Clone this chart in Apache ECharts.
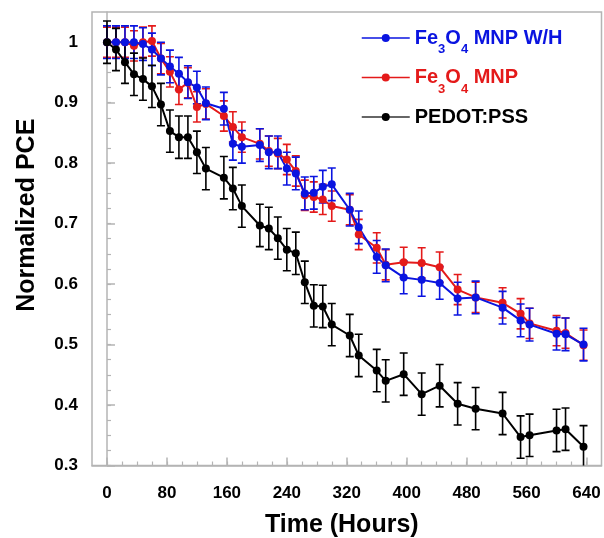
<!DOCTYPE html>
<html><head><meta charset="utf-8">
<script src="https://cdn.jsdelivr.net/npm/echarts@6/dist/echarts.min.js"></script>
<style>html,body{margin:0;padding:0;background:#fff}#c{width:604px;height:538px}</style>
</head><body><div id="c"></div>
<script>
const hours = [0, 12, 24, 36, 48, 60, 72, 84, 96, 108, 120, 132, 156, 168, 180, 204, 216, 228, 240, 252, 264, 276, 288, 300, 324, 336, 360, 372, 396, 420, 444, 468, 492, 528, 552, 564, 600, 612, 636];
const blueVals = [1.0, 1.0, 1.0, 1.0, 0.997, 0.988, 0.973, 0.960, 0.948, 0.934, 0.925, 0.899, 0.890, 0.832, 0.827, 0.830, 0.818, 0.818, 0.791, 0.783, 0.750, 0.751, 0.761, 0.765, 0.723, 0.694, 0.645, 0.631, 0.611, 0.607, 0.602, 0.576, 0.578, 0.561, 0.540, 0.533, 0.518, 0.517, 0.500];
const redVals = [1.0, 1.0, 1.0, 0.994, 1.0, 1.002, 0.973, 0.951, 0.922, 0.933, 0.893, 0.898, 0.878, 0.860, 0.843, 0.832, 0.820, 0.816, 0.806, 0.787, 0.747, 0.744, 0.740, 0.729, 0.723, 0.682, 0.660, 0.632, 0.636, 0.635, 0.628, 0.591, 0.578, 0.569, 0.551, 0.535, 0.523, 0.519, 0.499];
const blackVals = [1.0, 0.988, 0.967, 0.947, 0.939, 0.927, 0.897, 0.853, 0.843, 0.843, 0.818, 0.791, 0.776, 0.758, 0.729, 0.697, 0.692, 0.676, 0.657, 0.651, 0.603, 0.564, 0.563, 0.533, 0.515, 0.482, 0.457, 0.440, 0.451, 0.418, 0.432, 0.402, 0.394, 0.386, 0.347, 0.350, 0.358, 0.360, 0.331];
const blueErr = 0.027;
const redErr = 0.025;
const blackErr = 0.035;
const xMajorTicks = [0, 80, 160, 240, 320, 400, 480, 560, 640];
const xMinorTicks = [0, 20, 40, 60, 80, 100, 120, 140, 160, 180, 200, 220, 240, 260, 280, 300, 320, 340, 360, 380, 400, 420, 440, 460, 480, 500, 520, 540, 560, 580, 600, 620, 640];
const yMajorTicks = [0.3, 0.4, 0.5, 0.6, 0.7, 0.8, 0.9, 1.0];
const yMinorTicks = [0.3, 0.325, 0.35, 0.375, 0.4, 0.425, 0.45, 0.475, 0.5, 0.525, 0.55, 0.575, 0.6, 0.625, 0.65, 0.675, 0.7, 0.725, 0.75, 0.775, 0.8, 0.825, 0.85, 0.875, 0.9, 0.925, 0.95, 0.975, 1.0, 1.025];
const names = ['Fe3O4 MNP W/H', 'Fe3O4 MNP', 'PEDOT:PSS'];

const BLUE = '#0a14e0', RED = '#e41a1a', BLACK = '#000000';
const FONT = 'Liberation Sans, Arial, sans-serif';

function pts(vals){ return hours.map((h,i)=>[h, vals[i]]); }
function errs(vals, e){ return hours.map((h,i)=>[h, vals[i]-e, vals[i]+e]); }
function errSeries(name, vals, e, color){
  return {
    type:'custom', name: name + ' error', data: errs(vals, e), clip:true,
    encode:{x:0, y:[1,2]},
    renderItem:function(params, api){
      const x = api.value(0);
      const lo = api.coord([x, api.value(1)]);
      const hi = api.coord([x, api.value(2)]);
      const w = 4;
      const st = {stroke: color, lineWidth: 1.6};
      return {type:'group', children:[
        {type:'line', shape:{x1:lo[0], y1:lo[1], x2:hi[0], y2:hi[1]}, style:st},
        {type:'line', shape:{x1:lo[0]-w, y1:lo[1], x2:lo[0]+w, y2:lo[1]}, style:st},
        {type:'line', shape:{x1:hi[0]-w, y1:hi[1], x2:hi[0]+w, y2:hi[1]}, style:st}
      ]};
    },
    silent:true, z:2
  };
}
function lineSeries(name, vals, color){
  return {type:'line', name:name, data: pts(vals), symbol:'circle', symbolSize:8,
    lineStyle:{color:color, width:2}, itemStyle:{color:color}, z:3, animation:false};
}
const richBase = {
  n:{fontSize:20, fontWeight:'bold', fontFamily:FONT, lineHeight:36, verticalAlign:'middle'},
  s:{fontSize:13, fontWeight:'bold', fontFamily:FONT, lineHeight:12, verticalAlign:'bottom'}
};
function richFor(color){
  return {n:Object.assign({}, richBase.n, {color:color}), s:Object.assign({}, richBase.s, {color:color})};
}

const chart = echarts.init(document.getElementById('c'), null, {renderer:'canvas'});
const axisGray = '#b4b4b4';
chart.setOption({
  animation:false,
  backgroundColor:'#fff',
  grid:{left:92, right:2.5, top:12, bottom:72.5, show:true, borderColor:axisGray, borderWidth:1.5,
    containLabel:false, outerBoundsMode:'none'},
  legend:{
    left:361, top:28, padding:0, orient:'vertical', itemWidth:48, itemHeight:10, itemGap:11.5,
    data:[
      {name:names[0], textStyle:{rich:richFor(BLUE)}, itemStyle:{color:BLUE}, lineStyle:{color:BLUE, width:1.5}},
      {name:names[1], textStyle:{rich:richFor(RED)}, itemStyle:{color:RED}, lineStyle:{color:RED, width:1.5}},
      {name:names[2], textStyle:{rich:richFor(BLACK)}, itemStyle:{color:BLACK}, lineStyle:{color:'#333', width:1.5}}
    ],
    formatter:function(n){
      if(n===names[0]) return '{n|Fe}{s|3}{n|O}{s|4}{n| MNP W/H}';
      if(n===names[1]) return '{n|Fe}{s|3}{n|O}{s|4}{n| MNP}';
      return '{n|PEDOT:PSS}';
    }
  },
  xAxis:[{
    type:'value', min:-20, max:660, position:'bottom',
    name:'Time (Hours)', nameLocation:'middle', nameGap:47,
    nameTextStyle:{fontSize:25, fontWeight:'bold', color:'#000', fontFamily:FONT, padding:[0,10,0,0]},
    axisLine:{show:true, lineStyle:{color:axisGray, width:1.5}},
    axisTick:{show:true, inside:true, length:8, customValues:xMajorTicks, lineStyle:{color:axisGray, width:1.5}},
    axisLabel:{show:true, customValues:xMajorTicks, margin:19, fontSize:17, fontWeight:'bold', color:'#000', fontFamily:FONT},
    splitLine:{show:false}
  },{
    type:'value', min:-20, max:660, position:'bottom',
    axisLine:{show:false},
    axisTick:{show:true, inside:true, length:4, customValues:xMinorTicks, lineStyle:{color:axisGray, width:1.2}},
    axisLabel:{show:false}, splitLine:{show:false}
  }],
  yAxis:[{
    type:'value', min:0.3, max:1.05, position:'left',
    name:'Normalized PCE', nameLocation:'middle', nameGap:52, nameRotate:90,
    nameTextStyle:{fontSize:25, fontWeight:'bold', color:'#000', fontFamily:FONT, padding:[0,0,0,47]},
    axisLine:{show:true, lineStyle:{color:axisGray, width:1.5}},
    axisTick:{show:true, inside:true, length:8, customValues:yMajorTicks, lineStyle:{color:axisGray, width:1.5}},
    axisLabel:{show:true, customValues:yMajorTicks, margin:14, fontSize:17, fontWeight:'bold', color:'#000', fontFamily:FONT,
      formatter:function(v){ return Math.abs(v-1)<1e-9 ? '1' : v.toFixed(1); }},
    splitLine:{show:false}
  },{
    type:'value', min:0.3, max:1.05, position:'left',
    axisLine:{show:false},
    axisTick:{show:true, inside:true, length:4, customValues:yMinorTicks, lineStyle:{color:axisGray, width:1.2}},
    axisLabel:{show:false}, splitLine:{show:false}
  }],
  series:[
    errSeries(names[1], redVals, redErr, RED),
    lineSeries(names[1], redVals, RED),
    errSeries(names[0], blueVals, blueErr, BLUE),
    lineSeries(names[0], blueVals, BLUE),
    errSeries(names[2], blackVals, blackErr, BLACK),
    lineSeries(names[2], blackVals, BLACK)
  ]
});
</script>
</body></html>
